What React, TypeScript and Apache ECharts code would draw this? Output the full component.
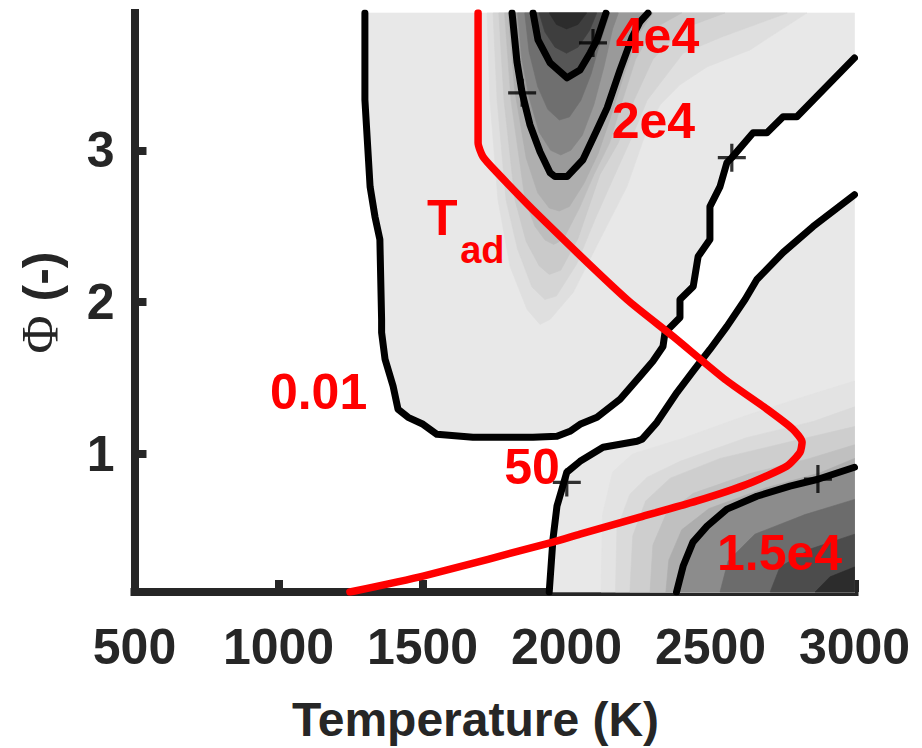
import React, { useEffect, useRef } from 'react';
import * as echarts from 'echarts';

type Pt = [number, number];

const FONT = "'Liberation Sans', Arial, Helvetica, sans-serif";
const SERIF = "'Liberation Serif', 'DejaVu Serif', serif";
const INK = '#262626';
const RED = '#ff0000';

// ---- axes ----
const xMin = 500;
const xMax = 3000;
const xStep = 500;
const yMin = 0.09;
const yMax = 3.905;
const yTicks = [1, 2, 3];

// ---- contour lines: [Temperature (K), Phi] ----
const contour001: Pt[] = [
  [1300, 3.905], [1300, 3.333], [1318, 2.761], [1335, 2.563], [1352, 2.412], [1358, 1.886],
  [1358, 1.8], [1370, 1.623], [1398, 1.445], [1415, 1.294], [1450, 1.241], [1502, 1.195],
  [1550, 1.129], [1675, 1.109], [1884, 1.109], [1967, 1.116], [2012, 1.149], [2047, 1.195],
  [2106, 1.241], [2186, 1.36], [2255, 1.511], [2300, 1.61], [2335, 1.708], [2342, 1.8],
  [2370, 1.853], [2394, 1.899], [2394, 2.017], [2440, 2.103], [2457, 2.3], [2498, 2.412],
  [2498, 2.629], [2533, 2.761], [2557, 2.919], [2574, 2.952], [2648, 3.116], [2696, 3.116],
  [2752, 3.221], [2800, 3.221], [3000, 3.609],
];
const contour50: Pt[] = [
  [1940, 0.09], [1953, 0.438], [1967, 0.657], [1984, 0.767], [2001, 0.879], [2047, 0.951],
  [2127, 1.044], [2245, 1.083], [2262, 1.096], [2314, 1.208], [2384, 1.406], [2439, 1.544],
  [2498, 1.688], [2557, 1.84], [2620, 2.017], [2661, 2.149], [2752, 2.327], [2856, 2.498],
  [3000, 2.708],
];
const contour2e4: Pt[] = [
  [1811, 3.905], [1828, 3.583], [1846, 3.379], [1873, 3.169], [1908, 2.991], [1943, 2.853],
  [1960, 2.827], [2002, 2.827], [2057, 2.938], [2106, 3.136], [2141, 3.28], [2186, 3.53],
  [2227, 3.741], [2255, 3.846], [2283, 3.905],
];
const contour4e4: Pt[] = [
  [1884, 3.905], [1901, 3.728], [1943, 3.577], [2002, 3.478], [2047, 3.53], [2082, 3.642],
  [2106, 3.728], [2137, 3.905],
];
const contour15e4: Pt[] = [
  [2382, 0.09], [2405, 0.261], [2439, 0.419], [2488, 0.524], [2557, 0.636], [2661, 0.721],
  [2776, 0.787], [2873, 0.833], [3000, 0.912],
];
const tAdiabatic: Pt[] = [
  [1248, 0.09], [1502, 0.195], [1953, 0.419], [2047, 0.471], [2255, 0.583], [2453, 0.69],
  [2627, 0.8], [2766, 0.92], [2811, 1.011], [2818, 1.078], [2786, 1.163], [2696, 1.295],
  [2550, 1.491], [2370, 1.774], [2210, 2.017], [1908, 2.563], [1759, 2.853], [1710, 2.958],
  [1693, 3.05], [1693, 3.905],
];
const contourMarkers: Pt[] = [
  [2092, 3.708], [1846, 3.379], [2574, 2.952], [2001, 0.812], [2873, 0.834],
];

// ---- shading bands (filled levels) ----
const plume1: Pt[] = [
  [1724, 3.905], [1734, 3.333], [1762, 2.675], [1804, 2.234], [1863, 1.952], [1908, 1.853],
  [1943, 1.886], [2023, 2.063], [2116, 2.412], [2210, 2.761], [2273, 3.103], [2325, 3.3],
  [2394, 3.432], [2488, 3.55], [2637, 3.662], [2835, 3.905],
];
const plume2: Pt[] = [
  [1745, 3.905], [1759, 3.333], [1790, 2.675], [1830, 2.35], [1880, 2.1], [1925, 2.017],
  [1965, 2.04], [2035, 2.25], [2100, 2.55], [2168, 2.84], [2230, 3.1], [2280, 3.33],
  [2405, 3.64], [2543, 3.75], [2766, 3.905],
];
const plume3: Pt[] = [
  [1765, 3.905], [1783, 3.333], [1821, 2.675], [1860, 2.4], [1905, 2.24], [1940, 2.182],
  [1980, 2.21], [2040, 2.42], [2116, 2.84], [2180, 3.05], [2235, 3.333], [2300, 3.6],
  [2400, 3.8], [2550, 3.905],
];
const plume4: Pt[] = [
  [1785, 3.905], [1807, 3.333], [1856, 2.675], [1890, 2.5], [1925, 2.41], [1955, 2.38],
  [1988, 2.41], [2045, 2.62], [2095, 2.84], [2150, 3.05], [2195, 3.333], [2240, 3.6],
  [2300, 3.8], [2400, 3.905],
];
const plume5: Pt[] = [
  [1798, 3.905], [1820, 3.4], [1860, 2.95], [1900, 2.72], [1940, 2.62], [1975, 2.6],
  [2010, 2.63], [2060, 2.78], [2110, 2.98], [2150, 3.2], [2200, 3.5], [2245, 3.75],
  [2300, 3.905],
];
const core2: Pt[] = [
  [1830, 3.905], [1845, 3.6], [1870, 3.35], [1905, 3.12], [1945, 3.0], [1980, 2.97],
  [2015, 3.0], [2055, 3.1], [2095, 3.3], [2130, 3.55], [2160, 3.8], [2180, 3.905],
];
const core3: Pt[] = [
  [1855, 3.905], [1870, 3.65], [1900, 3.42], [1935, 3.27], [1975, 3.2], [2010, 3.22],
  [2050, 3.33], [2085, 3.5], [2115, 3.7], [2150, 3.905],
];
const peak2: Pt[] = [
  [1905, 3.905], [1925, 3.78], [1960, 3.68], [2000, 3.64], [2040, 3.68], [2080, 3.79],
  [2105, 3.905],
];
const peak3: Pt[] = [
  [1940, 3.905], [1965, 3.83], [2000, 3.8], [2040, 3.83], [2070, 3.905],
];
const hot0: Pt[] = [
  [2120, 0.09], [2125, 0.6], [2160, 0.88], [2230, 1.0], [2400, 1.1], [2620, 1.25],
  [2830, 1.38], [3000, 1.48],
];
const hot1: Pt[] = [
  [2170, 0.09], [2175, 0.505], [2220, 0.734], [2280, 0.846], [2394, 0.951], [2627, 1.108],
  [2856, 1.213], [3000, 1.31],
];
const hot2: Pt[] = [
  [2220, 0.09], [2230, 0.46], [2275, 0.69], [2360, 0.84], [2533, 0.97], [2776, 1.08],
  [3000, 1.18],
];
const hot3: Pt[] = [
  [2290, 0.09], [2300, 0.4], [2345, 0.6], [2440, 0.74], [2637, 0.87], [2845, 0.97],
  [3000, 1.06],
];
const hot4: Pt[] = [
  [2345, 0.09], [2355, 0.3], [2400, 0.5], [2495, 0.64], [2690, 0.775], [2880, 0.875],
  [3000, 0.97],
];
const deep2: Pt[] = [[2533, 0.09], [2561, 0.294], [2654, 0.471], [2828, 0.6], [3000, 0.7]];
const deep3: Pt[] = [[2707, 0.09], [2741, 0.254], [2846, 0.373], [3000, 0.471]];
const deep4: Pt[] = [[2863, 0.09], [2915, 0.19], [3000, 0.255]];

// ---- annotations ----
const labelTexts = ['4e4', '2e4', '0.01', '50', '1.5e4', 'T', 'ad'];
const labelT = [2316, 2302, 1139, 1880, 2740, 1569, 1708];
const labelPhi = [3.751, 3.192, 1.409, 0.915, 0.35, 2.554, 2.345];

const closeBottom = (pts: Pt[]): Pt[] => [...pts, [xMax, yMin]];

const shadeRegions: Pt[][] = [
  [...contour001, [xMax, yMax]],
  closeBottom(contour50),
  plume1, plume2, plume3, plume4, plume5,
  contour2e4, core2, core3, contour4e4, peak2, peak3,
  closeBottom(hot0), closeBottom(hot1), closeBottom(hot2), closeBottom(hot3), closeBottom(hot4),
  closeBottom(contour15e4), closeBottom(deep2), closeBottom(deep3), closeBottom(deep4),
];
const shadeColors = [
  '#e8e8e8', '#e8e8e8',
  '#dfdfdf', '#d5d5d5', '#cacaca', '#bdbdbd', '#afafaf',
  '#9a9a9a', '#858585', '#6f6f6f', '#565656', '#3e3e3e', '#2c2c2c',
  '#e3e3e3', '#dadada', '#cecece', '#c0c0c0', '#adadad',
  '#8c8c8c', '#6c6c6c', '#4c4c4c', '#2c2c2c',
];

const contourLine = (data: Pt[], color: string, width: number, smooth: number | boolean = false) => ({
  type: 'line',
  data,
  smooth,
  showSymbol: false,
  symbol: 'none',
  silent: true,
  z: 3,
  lineStyle: { color, width, cap: 'round', join: 'round' },
});

const option: any = {
  animation: false,
  tooltip: { show: false },
  grid: { left: 134.5, right: 67.5, top: 13, bottom: 155, containLabel: false },
  xAxis: {
    type: 'value',
    min: xMin,
    max: xMax,
    interval: xStep,
    axisLine: { show: true, onZero: false, lineStyle: { color: INK, width: 8, cap: 'square' } },
    axisTick: { show: true, inside: true, length: 12, lineStyle: { color: INK, width: 8 } },
    axisLabel: {
      margin: 30,
      fontSize: 50,
      fontWeight: 'bold',
      color: INK,
      fontFamily: FONT,
      formatter: (v: number) => String(v),
    },
    splitLine: { show: false },
    name: 'Temperature (K)',
    nameLocation: 'middle',
    nameGap: 103,
    nameTextStyle: { fontSize: 48, fontWeight: 'bold', color: INK, fontFamily: FONT, padding: [0, 38, 0, 0] },
  },
  yAxis: {
    type: 'value',
    min: yMin,
    max: yMax,
    axisLine: { show: true, onZero: false, lineStyle: { color: INK, width: 8, cap: 'square' } },
    axisTick: { show: true, inside: true, length: 12, customValues: yTicks, lineStyle: { color: INK, width: 8 } },
    axisLabel: {
      customValues: yTicks,
      margin: 20,
      fontSize: 50,
      fontWeight: 'bold',
      color: INK,
      fontFamily: FONT,
      formatter: (v: number) => String(v),
    },
    splitLine: { show: false },
    name: '{phi|Φ} (-)',
    nameLocation: 'middle',
    nameRotate: 90,
    nameGap: 68,
    nameTextStyle: {
      fontSize: 50,
      fontWeight: 'bold',
      color: INK,
      fontFamily: FONT,
      rich: { phi: { fontSize: 52, fontFamily: SERIF, fontWeight: 'normal', color: INK } },
    },
  },
  series: [
    {
      type: 'custom',
      coordinateSystem: 'cartesian2d',
      silent: true,
      z: 1,
      data: [[1750, 2]],
      renderItem: (_params: any, api: any) => ({
        type: 'group',
        children: shadeRegions.map((pts, i) => ({
          type: 'polygon',
          shape: { points: pts.map((p) => api.coord(p)) },
          style: { fill: shadeColors[i], stroke: shadeColors[i], lineWidth: 0.6 },
        })),
      }),
    },
    contourLine(contour001, '#000000', 7),
    contourLine(contour50, '#000000', 7),
    contourLine(contour2e4, '#000000', 7),
    contourLine(contour4e4, '#000000', 7),
    contourLine(contour15e4, '#000000', 7),
    contourLine(tAdiabatic, RED, 7.5, 0.2),
    {
      type: 'scatter',
      data: contourMarkers,
      symbol: 'path://M-1.6,-14H1.6V-1.6H14V1.6H1.6V14H-1.6V1.6H-14V-1.6H-1.6Z',
      symbolSize: 28,
      itemStyle: { color: '#000000' },
      silent: true,
      z: 5,
    },
    {
      type: 'custom',
      coordinateSystem: 'cartesian2d',
      silent: true,
      z: 6,
      data: labelT.map((t, i) => [t, labelPhi[i]]),
      renderItem: (params: any, api: any) => {
        const i = params.dataIndex;
        const pos = api.coord([api.value(0), api.value(1)]);
        return {
          type: 'text',
          x: pos[0],
          y: pos[1],
          style: {
            text: labelTexts[i],
            fill: RED,
            fontSize: labelTexts[i] === 'ad' ? 38 : 50,
            fontWeight: 'bold',
            fontFamily: FONT,
            align: 'center',
            verticalAlign: 'middle',
          },
        };
      },
    },
  ],
};

export default function App() {
  const ref = useRef<HTMLDivElement>(null);
  useEffect(() => {
    if (!ref.current) return;
    const chart = echarts.init(ref.current, null, { renderer: 'svg' });
    chart.setOption(option);
    return () => chart.dispose();
  }, []);
  return (
    <div
      ref={ref}
      style={{ position: 'absolute', left: 0, top: 0, width: 922, height: 748, background: '#ffffff' }}
    />
  );
}
